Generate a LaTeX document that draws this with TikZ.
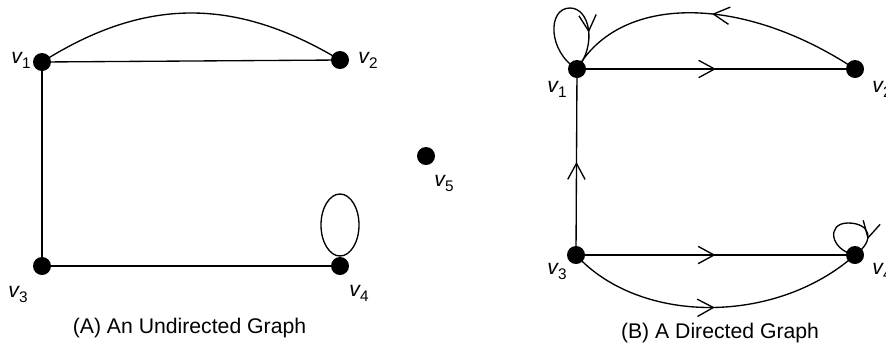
\documentclass[tikz,border=0pt]{standalone}
\usepackage{fontspec}
\setmainfont{Liberation Sans}
\usetikzlibrary{arrows.meta,decorations.markings,backgrounds}
\begin{document}
\begin{tikzpicture}[x=0.75pt,y=-0.75pt,
  vert/.style={circle,fill=black,inner sep=0pt,minimum size=13.5pt},
  lbl/.style={inner sep=0pt,font=\fontsize{15.9}{19}\selectfont},
  captext/.style={inner sep=0pt,font=\fontsize{15.9}{19}\selectfont},
  ln/.style={line width=1pt},
  midarrow/.style={postaction={decorate},decoration={markings,
     mark=at position #1 with {\arrow[line width=1pt]{Straight Barb[length=12pt,width=13pt]}}}},
  midarrow/.default=0.5]
\useasboundingbox (0,0) rectangle (886,351);
\newcommand{\vl}[1]{{\itshape v}\raisebox{-0.45ex}{\fontsize{11.5}{12}\selectfont #1}}
% ---------- (A) ----------
\node[vert] (a1) at (42,62) {};
\node[vert] (a2) at (340,60) {};
\node[vert] (a3) at (42,266) {};
\node[vert] (a4) at (340,266) {};
\node[vert] (a5) at (426,156) {};
\node[lbl] (la1) at (21,60) {\vl{1}};
\node[lbl] (la2) at (368,60) {\vl{2}};
\node[lbl] (la3) at (18,294) {\vl{3}};
\node[lbl] (la4) at (359,293) {\vl{4}};
\node[lbl] (la5) at (444,183) {\vl{5}};
\node[captext] (capa) at (189.5,328) {(A) An Undirected Graph};
\begin{pgfonlayer}{background}
\draw[ln] (a1.center) -- (a2.center);
\draw[ln] (a1.center) -- (a3.center);
\draw[ln] (a3.center) -- (a4.center);
\draw[ln] (a1.center) .. controls (145,-3) and (235,-3) .. (a2.center);
\path (a4.center) ++(0,-41) coordinate (l4c);
\draw[ln] (l4c) ellipse [x radius=14.25pt, y radius=23.25pt];
\end{pgfonlayer}
% ---------- (B) ----------
\node[vert] (b1) at (577,69) {};
\node[vert] (b2) at (855,69) {};
\node[vert] (b3) at (576,255) {};
\node[vert] (b4) at (855,255) {};
\node[lbl] (lb1) at (557,89) {\vl{1}};
\node[lbl] (lb2) at (882,89) {\vl{2}};
\node[lbl] (lb3) at (557,271) {\vl{3}};
\node[lbl] (lb4) at (882,271) {\vl{4}};
\node[captext] (capb) at (720,333.5) {(B) A Directed Graph};
\begin{pgfonlayer}{background}
\draw[ln,midarrow] (b1.center) -- (b2.center);
\draw[ln,midarrow] (b3.center) -- (b1.center);
\draw[ln,midarrow] (b3.center) -- (b4.center);
\draw[ln,midarrow] (b2.center) .. controls (742,-6) and (620,-6) .. (b1.center);
\draw[ln,midarrow] (b3.center) .. controls (640,325) and (776,325) .. (b4.center);
\draw[ln,midarrow=0.74] (b1.center) .. controls (548,52) and (547,8) .. (570,8)
   .. controls (590,8) and (597,45) .. (b1.center);
\draw[ln,midarrow=0.8] (b4.center) .. controls (830,250) and (826,223) .. (848,223)
   .. controls (870,223) and (876,240) .. (b4.center);
\end{pgfonlayer}
\end{tikzpicture}
\end{document}
